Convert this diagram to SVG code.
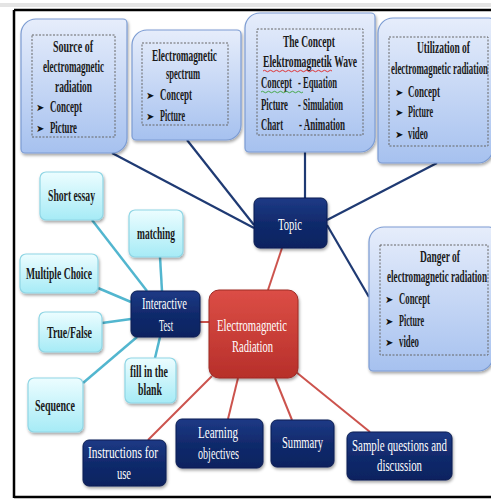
<svg xmlns="http://www.w3.org/2000/svg" width="491" height="504" viewBox="0 0 491 504">
<defs>
<linearGradient id="gBlue" x1="0" y1="0" x2="0" y2="1"><stop offset="0" stop-color="#e6edfb"/><stop offset="1" stop-color="#a6c1ef"/></linearGradient>
<linearGradient id="gCyan" x1="0" y1="0" x2="0" y2="1"><stop offset="0" stop-color="#ecfdff"/><stop offset="1" stop-color="#a6ebf6"/></linearGradient>
<linearGradient id="gNavy" x1="0" y1="0" x2="0" y2="1"><stop offset="0" stop-color="#1d3a86"/><stop offset="0.5" stop-color="#112a6c"/><stop offset="1" stop-color="#0d2360"/></linearGradient>
<linearGradient id="gRed" x1="0" y1="0" x2="0" y2="1"><stop offset="0" stop-color="#dc4e46"/><stop offset="1" stop-color="#b72f2a"/></linearGradient>
<filter id="sh" x="-20%" y="-20%" width="140%" height="150%"><feDropShadow dx="1" dy="2" stdDeviation="1.5" flood-color="#000" flood-opacity="0.35"/></filter>
</defs>
<style>
.lb{fill:url(#gBlue);stroke:#7c9cd3;stroke-width:1.2;filter:url(#sh)}
.dash{fill:none;stroke:#666;stroke-width:1;stroke-dasharray:2 1.5}
.cy{fill:url(#gCyan);stroke:#8fd6e5;stroke-width:1.2;filter:url(#sh)}
.nv{fill:url(#gNavy);stroke:#0a1d52;stroke-width:1;filter:url(#sh)}
.rd{fill:url(#gRed);stroke:#9e2a25;stroke-width:1;filter:url(#sh)}
text{font-family:"Liberation Serif","Times New Roman",serif;font-size:16px;fill:#1a1a1a;font-weight:bold}
.w{fill:#fff;font-weight:normal}
.b{font-family:"DejaVu Sans",sans-serif;font-size:10px;fill:#111;font-weight:normal}
.cn{stroke:#1f3a73;stroke-width:2.2;fill:none}
.cr{stroke:#cc534d;stroke-width:2;fill:none}
.cc{stroke:#52b6cf;stroke-width:2.5;fill:none}
</style>
<rect x="0" y="0" width="491" height="504" fill="#fff"/>
<rect x="0" y="3" width="491" height="4" fill="#e4e4e4"/>
<path d="M14,10 H491 M14,10 V498 M14,497 H491" stroke="#000" stroke-width="2.5" fill="none"/>

<g id="connectors">
<line class="cn" x1="112" y1="153" x2="254" y2="228"/>
<line class="cn" x1="187" y1="140" x2="254" y2="225"/>
<line class="cn" x1="305" y1="152" x2="305" y2="198"/>
<line class="cn" x1="437" y1="163" x2="327" y2="220"/>
<line class="cn" x1="327" y1="225" x2="369" y2="297"/>
<line class="cr" x1="282" y1="248" x2="268" y2="290"/>
<line class="cr" x1="200" y1="322" x2="209" y2="322"/>
<line class="cr" x1="212" y1="376" x2="148" y2="440"/>
<line class="cr" x1="238" y1="378" x2="228" y2="419"/>
<line class="cr" x1="275" y1="378" x2="292" y2="420"/>
<line class="cr" x1="296" y1="372" x2="370" y2="432"/>
<line class="cc" x1="92" y1="220" x2="147" y2="291"/>
<line class="cc" x1="160" y1="257" x2="162" y2="291"/>
<line class="cc" x1="98" y1="288" x2="131" y2="302"/>
<line class="cc" x1="102" y1="323" x2="131" y2="319"/>
<line class="cc" x1="83" y1="383" x2="137" y2="337"/>
<line class="cc" x1="155" y1="358" x2="160" y2="337"/>
</g>

<g id="source">
<path class="lb" d="M36,19 H123 A4,4 0 0 1 127,23 V138 A15,15 0 0 1 112,153 H25 A4,4 0 0 1 21,149 V34 A15,15 0 0 1 36,19 Z"/>
<rect class="dash" x="32" y="35" width="83" height="102"/>
<text x="53" y="52" textLength="40" lengthAdjust="spacingAndGlyphs">Source of</text>
<text x="43" y="72" textLength="61" lengthAdjust="spacingAndGlyphs">electromagnetic</text>
<text x="55" y="92" textLength="37" lengthAdjust="spacingAndGlyphs">radiation</text>
<text class="b" x="36" y="111">➤</text><text x="50" y="112" textLength="32" lengthAdjust="spacingAndGlyphs">Concept</text>
<text class="b" x="36" y="132">➤</text><text x="50" y="133" textLength="27" lengthAdjust="spacingAndGlyphs">Picture</text>
</g>

<g id="spectrum">
<path class="lb" d="M147,30 H237 A4,4 0 0 1 241,34 V125 A15,15 0 0 1 226,140 H136 A4,4 0 0 1 132,136 V45 A15,15 0 0 1 147,30 Z"/>
<rect class="dash" x="142" y="43" width="86" height="82"/>
<text x="152" y="61" textLength="65" lengthAdjust="spacingAndGlyphs">Electromagnetic</text>
<text x="166" y="79" textLength="34" lengthAdjust="spacingAndGlyphs">spectrum</text>
<text class="b" x="146" y="99">➤</text><text x="160" y="100" textLength="32" lengthAdjust="spacingAndGlyphs">Concept</text>
<text class="b" x="146" y="120">➤</text><text x="160" y="121" textLength="25" lengthAdjust="spacingAndGlyphs">Picture</text>
</g>

<g id="concept-wave">
<path class="lb" d="M260,13 H371 A4,4 0 0 1 375,17 V137 A15,15 0 0 1 360,152 H249 A4,4 0 0 1 245,148 V28 A15,15 0 0 1 260,13 Z"/>
<rect class="dash" x="257" y="29" width="106" height="106"/>
<text x="283" y="47" textLength="52" lengthAdjust="spacingAndGlyphs">The Concept</text>
<text x="263" y="67" textLength="94" lengthAdjust="spacingAndGlyphs">Elektromagnetik Wave</text>
<path d="M263,71 q1.5,-1.5 3,0 t3,0 t3,0 t3,0 t3,0 t3,0 t3,0 t3,0 t3,0 t3,0 t3,0 t3,0 t3,0 t3,0 t3,0 t3,0 t3,0 t3,0 t3,0 t3,0 t3,0 t3,0 t3,0" stroke="#e02020" stroke-width="0.9" fill="none"/>
<text x="261" y="88" textLength="31" lengthAdjust="spacingAndGlyphs">Concept</text>
<text x="298" y="88" textLength="39" lengthAdjust="spacingAndGlyphs">- Equation</text>
<path d="M261,92 q1.5,-1.5 3,0 t3,0 t3,0 t3,0 t3,0 t3,0 t3,0 t3,0 t3,0 t3,0 t3,0 t3,0 t3,0 t3,0" stroke="#3aa43a" stroke-width="0.9" fill="none"/>
<text x="261" y="110" textLength="27" lengthAdjust="spacingAndGlyphs">Picture</text>
<text x="298" y="110" textLength="45" lengthAdjust="spacingAndGlyphs">- Simulation</text>
<text x="261" y="130" textLength="22" lengthAdjust="spacingAndGlyphs">Chart</text>
<text x="299" y="130" textLength="46" lengthAdjust="spacingAndGlyphs">- Animation</text>
</g>

<g id="utilization">
<path class="lb" d="M393,18 H489 A4,4 0 0 1 493,22 V148 A15,15 0 0 1 478,163 H382 A4,4 0 0 1 378,159 V33 A15,15 0 0 1 393,18 Z"/>
<rect class="dash" x="389" y="37" width="99" height="109"/>
<text x="417" y="53" textLength="53" lengthAdjust="spacingAndGlyphs">Utilization of</text>
<text x="391" y="74" textLength="97" lengthAdjust="spacingAndGlyphs">electromagnetic radiation</text>
<text class="b" x="395" y="96">➤</text><text x="408" y="97" textLength="32" lengthAdjust="spacingAndGlyphs">Concept</text>
<text class="b" x="395" y="116">➤</text><text x="408" y="117" textLength="25" lengthAdjust="spacingAndGlyphs">Picture</text>
<text class="b" x="395" y="138">➤</text><text x="408" y="139" textLength="20" lengthAdjust="spacingAndGlyphs">video</text>
</g>

<g id="danger">
<path class="lb" d="M384,227 H489 A4,4 0 0 1 493,231 V356 A15,15 0 0 1 478,371 H373 A4,4 0 0 1 369,367 V242 A15,15 0 0 1 384,227 Z"/>
<rect class="dash" x="380" y="245" width="108" height="110"/>
<text x="420" y="262" textLength="40" lengthAdjust="spacingAndGlyphs">Danger of</text>
<text x="387" y="282" textLength="100" lengthAdjust="spacingAndGlyphs">electromagnetic radiation</text>
<text class="b" x="385" y="303">➤</text><text x="399" y="304" textLength="31" lengthAdjust="spacingAndGlyphs">Concept</text>
<text class="b" x="385" y="325">➤</text><text x="399" y="326" textLength="25" lengthAdjust="spacingAndGlyphs">Picture</text>
<text class="b" x="385" y="346">➤</text><text x="399" y="347" textLength="20" lengthAdjust="spacingAndGlyphs">video</text>
</g>

<g id="topic">
<rect class="nv" x="254" y="198" width="73" height="50" rx="6"/>
<text class="w" x="278" y="230" textLength="24" lengthAdjust="spacingAndGlyphs">Topic</text>
</g>

<g id="em-radiation">
<rect class="rd" x="209" y="290" width="89" height="88" rx="10"/>
<text class="w" x="217" y="331" textLength="70" lengthAdjust="spacingAndGlyphs">Electromagnetic</text>
<text class="w" x="232" y="352" textLength="41" lengthAdjust="spacingAndGlyphs">Radiation</text>
</g>

<g id="interactive-test">
<rect class="nv" x="131" y="291" width="69" height="46" rx="6"/>
<text class="w" x="142" y="309" textLength="45" lengthAdjust="spacingAndGlyphs">Interactive</text>
<text class="w" x="159" y="331" textLength="14" lengthAdjust="spacingAndGlyphs">Test</text>
</g>

<g id="short-essay">
<rect class="cy" x="40" y="172" width="63" height="48" rx="6"/>
<text x="48" y="201" textLength="47" lengthAdjust="spacingAndGlyphs">Short essay</text>
</g>
<g id="matching">
<rect class="cy" x="129" y="210" width="54" height="47" rx="6"/>
<text x="137" y="239" textLength="38" lengthAdjust="spacingAndGlyphs">matching</text>
</g>
<g id="multiple-choice">
<rect class="cy" x="20" y="254" width="78" height="39" rx="6"/>
<text x="26" y="279" textLength="66" lengthAdjust="spacingAndGlyphs">Multiple Choice</text>
</g>
<g id="true-false">
<rect class="cy" x="39" y="312" width="63" height="40" rx="6"/>
<text x="47" y="338" textLength="45" lengthAdjust="spacingAndGlyphs">True/False</text>
</g>
<g id="sequence">
<rect class="cy" x="28" y="378" width="55" height="54" rx="6"/>
<text x="35" y="411" textLength="40" lengthAdjust="spacingAndGlyphs">Sequence</text>
</g>
<g id="fill-blank">
<rect class="cy" x="125" y="358" width="51" height="45" rx="6"/>
<text x="130" y="377" textLength="38" lengthAdjust="spacingAndGlyphs">fill in the</text>
<text x="138" y="395" textLength="24" lengthAdjust="spacingAndGlyphs">blank</text>
</g>

<g id="instructions">
<rect class="nv" x="83" y="440" width="83" height="46" rx="6"/>
<text class="w" x="88" y="458" textLength="70" lengthAdjust="spacingAndGlyphs">Instructions for</text>
<text class="w" x="117" y="479" textLength="14" lengthAdjust="spacingAndGlyphs">use</text>
</g>
<g id="learning">
<rect class="nv" x="176" y="419" width="87" height="49" rx="6"/>
<text class="w" x="198" y="438" textLength="40" lengthAdjust="spacingAndGlyphs">Learning</text>
<text class="w" x="198" y="459" textLength="41" lengthAdjust="spacingAndGlyphs">objectives</text>
</g>
<g id="summary">
<rect class="nv" x="271" y="420" width="63" height="47" rx="6"/>
<text class="w" x="282" y="448" textLength="41" lengthAdjust="spacingAndGlyphs">Summary</text>
</g>
<g id="sample">
<rect class="nv" x="347" y="432" width="105" height="48" rx="6"/>
<text class="w" x="352" y="451" textLength="95" lengthAdjust="spacingAndGlyphs">Sample questions and</text>
<text class="w" x="377" y="471" textLength="45" lengthAdjust="spacingAndGlyphs">discussion</text>
</g>
</svg>
